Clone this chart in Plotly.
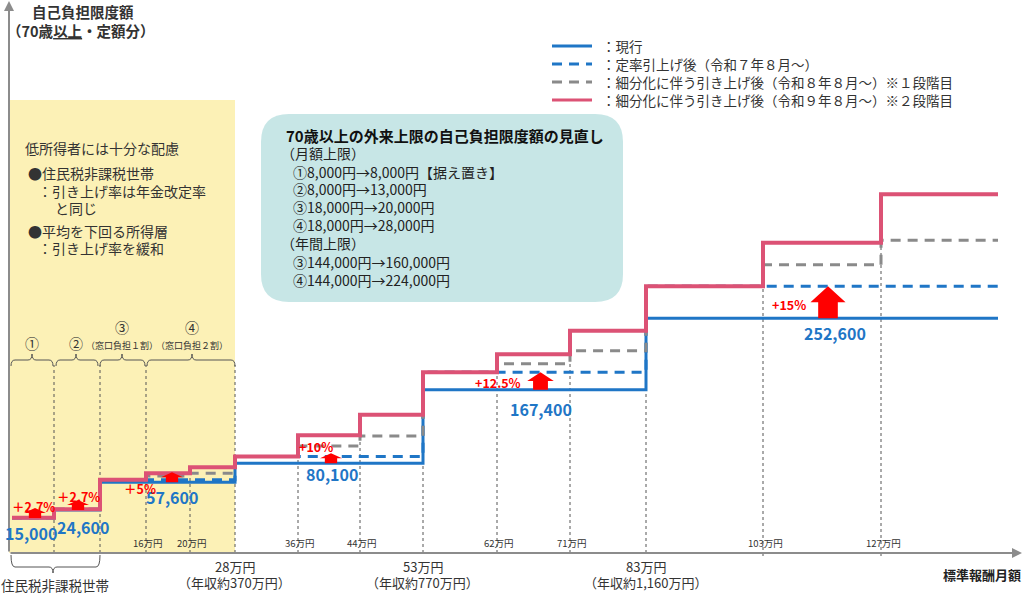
import plotly.graph_objects as go

# 標準報酬月額の区切り（図上の横位置、模式的）
edge_x = [3, 45, 91, 137, 181, 226, 289, 351, 414, 488, 561, 637, 754, 872, 989]
minor_idx = [3, 4, 6, 7, 9, 10, 12, 13]
minor_lab = ["16万円", "20万円", "36万円", "44万円", "62万円", "71万円", "103万円", "127万円"]
major_idx = [5, 8, 11]
major_lab = ["28万円", "53万円", "83万円"]
major_sub = ["（年収約370万円）", "（年収約770万円）", "（年収約1,160万円）"]

# 自己負担限度額（円）: 区分ごと
current = [15000, 24600, 57600, 57600, 57600, 80100, 80100, 80100, 167400, 167400, 167400, 252600, 252600, 252600]
r7 = [15400, 25300, 60600, 60600, 60600, 88200, 88200, 88200, 188300, 188300, 188300, 290400, 290400, 290400]
r8 = [15400, 25300, 60600, 64900, 68100, 88200, 100600, 112500, 188300, 198500, 213900, 290400, 316200, 345200]
r9 = [15400, 25300, 60600, 68100, 75300, 88200, 113300, 137800, 188300, 209600, 237700, 290400, 342300, 399900]

label_bands = [0, 1, 3, 6, 9, 12]
pct_text = ["＋2.7%", "＋2.7%", "＋5%", "+10%", "+12.5%", "+15%"]

series_names = ["：現行", "：定率引上げ後（令和７年８月～）",
                "：細分化に伴う引き上げ後（令和８年８月～）※１段階目",
                "：細分化に伴う引き上げ後（令和９年８月～）※２段階目"]

BLUE = "#1f76c6"
PINK = "#dc5275"
GRAY = "#8a8a8a"
RED = "#ff0000"
TXT = "#333333"
FONT = "Noto Sans CJK JP"

Y0 = 530.6      # pixel row of 0 yen
K = 0.000841    # pixels per yen
W, H = 1013, 553


def pxp(px):
    return (px - 9) / W


def pyp(py):
    return (553 - py) / H


def bc(i):
    return (edge_x[i] + edge_x[i + 1]) / 2


fig = go.Figure()
styles = [dict(color=BLUE, width=3), dict(color=BLUE, width=3, dash="10px,7px"),
          dict(color=GRAY, width=3, dash="10px,7px"), dict(color=PINK, width=4)]
for name, vals, st in zip(series_names, [current, r7, r8, r9], styles):
    fig.add_trace(go.Scatter(x=edge_x, y=vals + [vals[-1]], mode="lines", name=name,
                             line=dict(shape="hv", **st), hoverinfo="skip", showlegend=False))

shapes = []
# yellow low-income area
shapes.append(dict(type="rect", xref="paper", yref="paper", x0=0, x1=pxp(235), y0=0, y1=pyp(100),
                   fillcolor="#fcf1b6", line_width=0, layer="below"))
# rounded info box
x0, x1, y0, y1 = pxp(261), pxp(623), pyp(302), pyp(114)
rx, ry = 28 / W, 28 / H
path = (f"M{x0+rx},{y1} L{x1-rx},{y1} Q{x1},{y1} {x1},{y1-ry} L{x1},{y0+ry} Q{x1},{y0} {x1-rx},{y0} "
        f"L{x0+rx},{y0} Q{x0},{y0} {x0},{y0+ry} L{x0},{y1-ry} Q{x0},{y1} {x0+rx},{y1} Z")
shapes.append(dict(type="path", xref="paper", yref="paper", path=path, fillcolor="#c7e6e6",
                   line_width=0, layer="below"))

# dotted guides
for i in range(1, 14):
    if i in (1, 2, 3, 5):
        top = pyp(365)
    else:
        top = pyp(Y0 - K * max(r9[i - 1], r9[i]))
    shapes.append(dict(type="line", xref="paper", yref="paper", x0=pxp(edge_x[i] + 9), x1=pxp(edge_x[i] + 9),
                       y0=pyp(556) if i in (12, 13) else 0, y1=top,
                       line=dict(color="#555555", width=1, dash="dot"), layer="below"))


def brace(a, b, c, ye, ym, yp):
    d = 4
    pts = (f"M{pxp(a)},{pyp(ye)} Q{pxp(a)},{pyp(ym)} {pxp(a+d)},{pyp(ym)} L{pxp(c-d)},{pyp(ym)} "
           f"Q{pxp(c)},{pyp(ym)} {pxp(c)},{pyp(yp)} Q{pxp(c)},{pyp(ym)} {pxp(c+d)},{pyp(ym)} "
           f"L{pxp(b-d)},{pyp(ym)} Q{pxp(b)},{pyp(ym)} {pxp(b)},{pyp(ye)}")
    return dict(type="path", xref="paper", yref="paper", path=pts, line=dict(color="#555555", width=1))


shapes.append(brace(11, 53, 32, 366, 360, 354))
shapes.append(brace(56, 98, 76, 366, 360, 354))
shapes.append(brace(100, 145, 122, 366, 360, 354))
shapes.append(brace(147, 235, 192, 366, 360, 354))
shapes.append(brace(11, 100, 53, 555, 567, 573))

# red up arrows from current level toward the first raise
arrow_dx = [2, 1, 4, 2, 7, 6]
for b, dx in zip(label_bands, arrow_dx):
    h = max(10, (r7[b] - current[b]) * K)
    hw = 16 + 0.6 * h
    cx = bc(b) + dx
    yb = current[b]
    yt = yb + h / K
    yh = yb + 0.5 * h / K
    sw = hw * 0.28
    p = (f"M{cx-sw},{yb} L{cx-sw},{yh} L{cx-hw/2},{yh} L{cx},{yt} L{cx+hw/2},{yh} "
         f"L{cx+sw},{yh} L{cx+sw},{yb} Z")
    shapes.append(dict(type="path", xref="x", yref="y", path=p, fillcolor=RED, line_width=0))

ann = []


def txt(t, px, py, size, color=TXT, bold=False, anchor="center"):
    if bold:
        t = f"<b>{t}</b>"
    ann.append(dict(text=t, x=pxp(px), y=pyp(py), xref="paper", yref="paper", showarrow=False,
                    xanchor=anchor, yanchor="middle", font=dict(size=size, color=color, family=FONT)))


# legend (drawn by hand to match the row spacing)
legend_rows = [46, 64, 82, 100]
for name, st, ry_ in zip(series_names, styles, legend_rows):
    shapes.append(dict(type="line", xref="paper", yref="paper", x0=pxp(552), x1=pxp(592),
                       y0=pyp(ry_), y1=pyp(ry_), line=dict(st, width=3)))
    txt(name, 600, ry_, 13.5, anchor="left")

# axes arrows
ann.append(dict(x=0, y=1, xref="paper", yref="paper", ax=0, ay=H, text="", showarrow=True,
                arrowhead=2, arrowsize=1, arrowwidth=2, arrowcolor="#8c8c8c"))
ann.append(dict(x=1, y=0, xref="paper", yref="paper", ax=-W, ay=0, text="", showarrow=True,
                arrowhead=2, arrowsize=1, arrowwidth=2, arrowcolor="#8c8c8c"))

txt("自己負担限度額", 83, 11, 14.5, bold=True)
txt("（70歳<span style='text-decoration:underline'>以上</span>・定額分）", 81, 30, 14.5, bold=True)

txt("低所得者には十分な配慮", 23, 148, 14, anchor="left")
txt("●住民税非課税世帯", 26, 173, 14, anchor="left")
txt("：引き上げ率は年金改定率", 36, 191, 14, anchor="left")
txt("と同じ", 53, 208, 14, anchor="left")
txt("●平均を下回る所得層", 26, 231, 14, anchor="left")
txt("：引き上げ率を緩和", 36, 248, 14, anchor="left")

box_lines = ["（月額上限）", "①8,000円→8,000円【据え置き】", "②8,000円→13,000円", "③18,000円→20,000円",
             "④18,000円→28,000円", "（年間上限）", "③144,000円→160,000円", "④144,000円→224,000円"]
box_y = [153, 172, 189, 207, 225, 243, 262, 280]
txt("70歳以上の外来上限の自己負担限度額の見直し", 284, 135, 15, color="#111111", bold=True, anchor="left")
for t, y in zip(box_lines, box_y):
    txt(t, 279 if t.startswith("（") else 291, y, 14, color="#222222", anchor="left")

txt("①", 32, 343, 14)
txt("②", 76, 343, 14)
txt("③", 122, 327, 14)
txt("（窓口負担１割）", 122, 345, 9)
txt("④", 192, 327, 14)
txt("（窓口負担２割）", 192, 345, 9)

for i, lab in zip(minor_idx, minor_lab):
    txt(lab, edge_x[i] + 11, 543, 9.5)
for i, lab, sub in zip(major_idx, major_lab, major_sub):
    txt(lab, edge_x[i] + 9, 566, 13)
    txt(sub, edge_x[i] + 8, 582, 13)
txt("住民税非課税世帯", 55, 585, 13.5)
txt("標準報酬月額", 982, 574, 13, color="#222222", bold=True)

# current values under the lines
val_dx = [-2, 6, 4, 3, 7, 13]
val_dy = [-15, -17, -15, -11, -19, -15]
for b, dx, dy in zip(label_bands, val_dx, val_dy):
    ann.append(dict(text=f"<b>{current[b]:,}</b>", x=bc(b), y=current[b], xref="x", yref="y",
                    xshift=dx, yshift=dy, showarrow=False, yanchor="middle",
                    font=dict(size=16, color=BLUE, family=FONT)))

pct_px = [33, 78, 140, 316, 498, 789]
pct_py = [506, 496, 488, 446, 382, 304]
for t, px, py in zip(pct_text, pct_px, pct_py):
    txt(t, px, py, 12.5, color=RED, bold=True)

fig.update_layout(
    width=1024, height=594,
    margin=dict(l=9, r=2, t=0, b=41),
    paper_bgcolor="white", plot_bgcolor="rgba(0,0,0,0)",
    xaxis=dict(range=[0, W], visible=False, fixedrange=True),
    yaxis=dict(range=[(Y0 - 553) / K, Y0 / K], visible=False, fixedrange=True),
    shapes=shapes, annotations=ann,
    font=dict(family=FONT, color=TXT),
    showlegend=False,
)

fig.write_html("out.html", config={"displayModeBar": False},
               post_script="document.body.style.margin='0px';")
